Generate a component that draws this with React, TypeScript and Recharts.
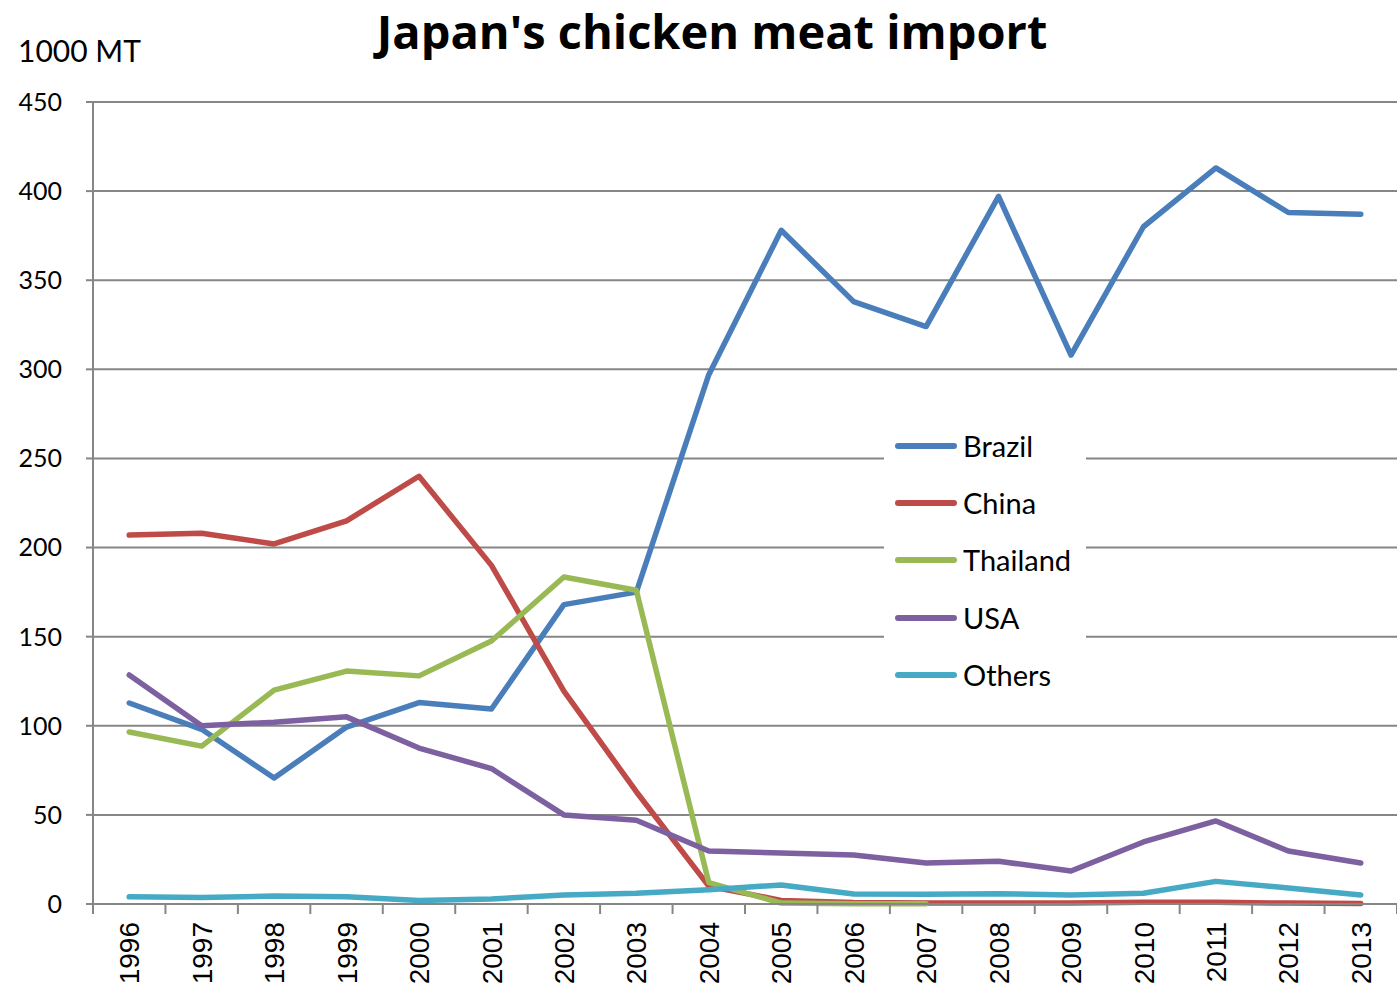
import React from "react";
import { LineChart, Line, XAxis, YAxis, CartesianGrid } from "recharts";

const years = ["1996","1997","1998","1999","2000","2001","2002","2003","2004","2005","2006","2007","2008","2009","2010","2011","2012","2013"];
const brazil = [112.8, 98, 70.7, 99.3, 113, 109.4, 168, 175, 297, 378, 338, 324, 397, 308, 380, 413, 388, 387];
const china = [207, 208, 202, 215, 240, 190, 119.5, 63, 10, 2, 0.8, 0.5, 0.5, 0.5, 1, 1, 0.5, 0.3];
const thailand: (number | null)[] = [96.5, 88.6, 120, 130.7, 128, 147.6, 183.5, 176, 12, 0.5, 0.2, 0.2, null, null, null, null, null, null];
const usa = [128.5, 100, 102, 105, 87.5, 76, 50, 47, 29.7, 28.6, 27.5, 23, 24, 18.5, 34.8, 46.6, 29.7, 23];
const others = [4, 3.6, 4.5, 4, 2, 2.8, 5, 6, 8, 10.7, 5.6, 5.5, 5.8, 5, 6, 12.7, 9, 5];
const yTicks = [0, 50, 100, 150, 200, 250, 300, 350, 400, 450];

const seriesDefs = [
  { key: "Brazil", color: "#4A7EBB" },
  { key: "China", color: "#BE4B48" },
  { key: "Thailand", color: "#98B954" },
  { key: "USA", color: "#7D60A0" },
  { key: "Others", color: "#46AAC5" },
];

const data = years.map((y, i) => ({
  year: y,
  Brazil: brazil[i],
  China: china[i],
  Thailand: thailand[i],
  USA: usa[i],
  Others: others[i],
}));

const BAND = 1304 / years.length;

const XTick = (props: any) => {
  const { x, payload, index } = props;
  const axisY = 904;
  return (
    <g>
      <line x1={x - BAND / 2} y1={axisY} x2={x - BAND / 2} y2={axisY + 10} stroke="#868686" strokeWidth={2} />
      {index === years.length - 1 && (
        <line x1={x + BAND / 2} y1={axisY} x2={x + BAND / 2} y2={axisY + 10} stroke="#868686" strokeWidth={2} />
      )}
      <text
        x={x}
        y={axisY + 18}
        transform={`rotate(-90, ${x}, ${axisY + 18})`}
        textAnchor="end"
        dy="0.36em"
        fontFamily="'Liberation Sans', Arial, sans-serif"
        fontSize={28}
        fill="#000"
      >
        {payload.value}
      </text>
    </g>
  );
};

const LegendBox = () => (
  <div style={{ position: "absolute", left: 884, top: 425, width: 202, height: 272, background: "#fff" }}>
    {seriesDefs.map((s, i) => (
      <div key={s.key} style={{ position: "absolute", left: 11, top: 5 + i * 57.2, height: 32, display: "flex", alignItems: "center" }}>
        <div style={{ width: 62, height: 6, borderRadius: 3, background: s.color }} />
        <span style={{ marginLeft: 6, fontFamily: "Lato, 'Open Sans', sans-serif", fontSize: 29, color: "#000", lineHeight: "32px" }}>{s.key}</span>
      </div>
    ))}
  </div>
);

export default function App() {
  return (
    <div style={{ position: "absolute", left: 0, top: 0, width: 1397, height: 989, background: "#fff", overflow: "hidden" }}>
      <LineChart width={1397} height={989} data={data} margin={{ top: 102, right: 0, bottom: 0, left: 0 }}>
        <CartesianGrid vertical={false} stroke="#868686" strokeWidth={2} />
        <XAxis
          dataKey="year"
          height={85}
          interval={0}
          padding={{ left: BAND / 2, right: BAND / 2 }}
          axisLine={{ stroke: "#868686", strokeWidth: 2 }}
          tickLine={false}
          tick={<XTick />}
        />
        <YAxis
          width={93}
          domain={[0, 450]}
          ticks={yTicks}
          interval={0}
          axisLine={{ stroke: "#868686", strokeWidth: 2 }}
          tickLine={{ stroke: "#868686", strokeWidth: 2 }}
          tickSize={7}
          tickMargin={24}
          tick={{ fill: "#000", fontSize: 25, fontFamily: "Lato, 'Open Sans', sans-serif" }}
        />
        {seriesDefs.map((s) => (
          <Line
            key={s.key}
            type="linear"
            dataKey={s.key}
            stroke={s.color}
            strokeWidth={5.5}
            dot={false}
            activeDot={false}
            strokeLinejoin="round"
            strokeLinecap="round"
            isAnimationActive={false}
          />
        ))}
      </LineChart>
      <LegendBox />
      <div style={{ position: "absolute", left: 712, top: 4, transform: "translateX(-50%)", fontFamily: "'Open Sans', Lato, sans-serif", fontWeight: 700, fontSize: 47, lineHeight: "54px", color: "#000", whiteSpace: "nowrap" }}>
        Japan's chicken meat import
      </div>
      <div style={{ position: "absolute", left: 18, top: 32, fontFamily: "Lato, 'Open Sans', sans-serif", fontSize: 30, lineHeight: "36px", color: "#000" }}>
        1000 MT
      </div>
    </div>
  );
}
